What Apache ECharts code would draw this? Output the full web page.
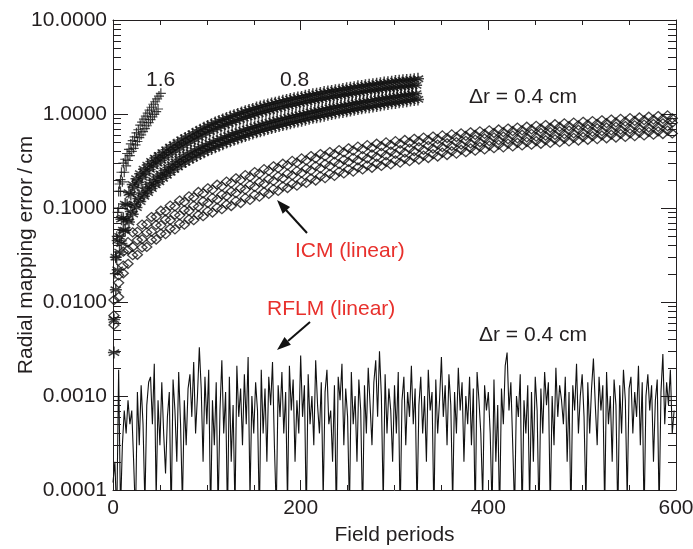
<!DOCTYPE html>
<html><head><meta charset="utf-8">
<script src="https://cdn.jsdelivr.net/npm/echarts@6/dist/echarts.min.js"></script>
<style>html,body{margin:0;padding:0;background:#fff}#c{width:693px;height:549px}</style>
</head><body><div id="c"></div>
<script>
// ---- data ----
const xTicks = [0, 200, 400, 600];
const yDecades = [0.0001, 0.001, 0.01, 0.1, 1, 10];
const yMinorTicks = [0.0002,0.0003,0.0004,0.0005,0.0006,0.0007,0.0008,0.0009,
  0.002,0.003,0.004,0.005,0.006,0.007,0.008,0.009,
  0.02,0.03,0.04,0.05,0.06,0.07,0.08,0.09,
  0.2,0.3,0.4,0.5,0.6,0.7,0.8,0.9,
  2,3,4,5,6,7,8,9];

// "1.6" series (plus markers)
const plusX1 = [2,3,4,5,6,7,8,9,11,13,15,17,19,21,23,25,27,29,31,33,35,37,39,41,43,45,47,49,51];
const plusY1 = [0.02,0.03,0.05,0.09,0.15,0.18,0.2,0.24,0.3,0.33,0.38,0.42,0.48,0.52,0.57,0.63,0.68,0.76,0.82,0.88,0.95,1.02,1.1,1.18,1.27,1.35,1.45,1.55,1.66];
const plusX2 = [4,6,8,10,12,14,16,18,20,22,24,26,28,30,32,34,36,38,40,42,44,46,48];
const plusY2 = [0.028,0.1,0.15,0.19,0.24,0.28,0.32,0.36,0.4,0.43,0.47,0.51,0.56,0.6,0.65,0.7,0.75,0.81,0.87,0.93,0.99,1.06,1.13];

// "0.8" series (asterisk markers), two sub-bands
const astX = [1,3,5,7,9,11,13,15,17,19,21,23,25,27,29,31,33,35,37,39,41,43,45,47,49,51,53,55,57,59,61,63,65,67,69,71,73,75,77,79,81,83,85,87,89,91,93,95,97,99,101,103,105,107,109,111,113,115,117,119,121,123,125,127,129,131,133,135,137,139,141,143,145,147,149,151,153,155,157,159,161,163,165,167,169,171,173,175,177,179,181,183,185,187,189,191,193,195,197,199,201,203,205,207,209,211,213,215,217,219,221,223,225,227,229,231,233,235,237,239,241,243,245,247,249,251,253,255,257,259,261,263,265,267,269,271,273,275,277,279,281,283,285,287,289,291,293,295,297,299,301,303,305,307,309,311,313,315,317,319,321,323,325];
const astUpper = [0.0065,0.03,0.045,0.05,0.076,0.078,0.11,0.108,0.146,0.139,
0.178,0.165,0.205,0.188,0.232,0.212,0.259,0.233,0.286,0.257,
0.313,0.28,0.34,0.301,0.362,0.322,0.389,0.345,0.416,0.368,
0.443,0.391,0.47,0.414,0.497,0.44,0.53,0.465,0.556,0.488,
0.583,0.514,0.616,0.542,0.648,0.569,0.68,0.597,0.713,0.625,
0.745,0.653,0.778,0.681,0.81,0.708,0.842,0.736,0.875,0.764,
0.907,0.792,0.94,0.819,0.972,0.847,1.0,0.875,1.04,0.903,
1.07,0.931,1.1,0.958,1.13,0.986,1.17,1.01,1.2,1.04,
1.23,1.07,1.26,1.09,1.29,1.12,1.32,1.14,1.35,1.17,
1.38,1.2,1.41,1.22,1.44,1.25,1.47,1.27,1.5,1.3,
1.52,1.32,1.56,1.35,1.59,1.38,1.62,1.4,1.64,1.42,
1.67,1.45,1.71,1.47,1.73,1.5,1.76,1.52,1.79,1.55,
1.81,1.57,1.85,1.6,1.88,1.62,1.9,1.65,1.93,1.67,
1.97,1.69,1.99,1.72,2.02,1.75,2.05,1.77,2.07,1.79,
2.1,1.81,2.13,1.84,2.16,1.86,2.18,1.88,2.21,1.9,
2.24,1.92,2.26,1.94,2.28,1.96,2.3,1.98,2.32,2.0,
2.34,2.02,2.37];
const astLower = [0.0029,0.0135,0.022,0.034,0.042,0.058,0.058,0.076,0.071,0.092,
0.086,0.109,0.101,0.126,0.117,0.144,0.133,0.162,0.146,0.179,
0.161,0.197,0.176,0.214,0.19,0.23,0.207,0.25,0.223,0.27,
0.24,0.29,0.257,0.31,0.274,0.33,0.292,0.35,0.308,0.37,
0.325,0.389,0.342,0.408,0.358,0.428,0.375,0.447,0.392,0.467,
0.412,0.486,0.425,0.506,0.443,0.527,0.46,0.547,0.478,0.568,
0.496,0.588,0.513,0.609,0.531,0.63,0.549,0.65,0.566,0.671,
0.584,0.691,0.602,0.712,0.62,0.733,0.638,0.754,0.655,0.775,
0.673,0.796,0.691,0.816,0.708,0.837,0.726,0.858,0.744,0.878,
0.762,0.899,0.78,0.92,0.797,0.941,0.815,0.961,0.833,0.982,
0.85,1.0,0.87,1.02,0.89,1.05,0.91,1.07,0.925,1.09,
0.943,1.11,0.96,1.13,0.98,1.16,0.999,1.18,1.02,1.2,
1.035,1.22,1.05,1.24,1.07,1.26,1.09,1.29,1.11,1.31,
1.13,1.33,1.15,1.35,1.17,1.37,1.18,1.39,1.2,1.42,
1.22,1.44,1.24,1.46,1.26,1.48,1.28,1.5,1.3,1.52,
1.31,1.54,1.33,1.57,1.35,1.59,1.37,1.61,1.39,1.63,
1.41,1.65,1.43];

// "Δr = 0.4 cm" series (diamond markers), three strands across the band
const diaX = [1,6,11,16,21,26,31,36,41,46,51,56,61,66,71,76,81,86,91,96,101,106,111,116,121,126,131,136,141,146,151,156,161,166,171,176,181,186,191,196,201,206,211,216,221,226,231,236,241,246,251,256,261,266,271,276,281,286,291,296,301,306,311,316,321,326,331,336,341,346,351,356,361,366,371,376,381,386,391,396,401,406,411,416,421,426,431,436,441,446,451,456,461,466,471,476,481,486,491,496,501,506,511,516,521,526,531,536,541,546,551,556,561,566,571,576,581,586,591,596];
const diaTop = [0.0105,0.0192,0.0343,0.0433,0.0551,0.0558,0.0666,0.0673,0.0801,0.0808,
0.0936,0.0923,0.106,0.104,0.12,0.116,0.133,0.13,0.148,0.143,
0.162,0.157,0.177,0.17,0.191,0.184,0.207,0.199,0.224,0.214,
0.241,0.231,0.259,0.248,0.278,0.265,0.296,0.284,0.317,0.303,
0.337,0.321,0.357,0.338,0.375,0.356,0.394,0.373,0.413,0.39,
0.432,0.408,0.449,0.423,0.466,0.438,0.483,0.454,0.499,0.468,
0.514,0.483,0.529,0.497,0.545,0.512,0.561,0.526,0.576,0.54,
0.592,0.555,0.607,0.569,0.623,0.584,0.639,0.598,0.654,0.613,
0.67,0.627,0.685,0.641,0.701,0.656,0.717,0.67,0.732,0.685,
0.748,0.699,0.763,0.713,0.779,0.728,0.795,0.742,0.81,0.757,
0.826,0.771,0.841,0.786,0.857,0.8,0.873,0.814,0.888,0.829,
0.904,0.843,0.919,0.858,0.935,0.872,0.951,0.887,0.966,0.901];
const diaMid = [0.0072,0.016,0.0244,0.036,0.0385,0.0456,0.0465,0.055,0.056,0.066,
0.0654,0.0755,0.0741,0.0849,0.0836,0.0952,0.093,0.106,0.103,0.118,
0.113,0.128,0.123,0.139,0.134,0.15,0.144,0.162,0.157,0.176,
0.168,0.188,0.181,0.203,0.194,0.217,0.207,0.232,0.222,0.248,
0.236,0.263,0.25,0.279,0.264,0.294,0.279,0.31,0.293,0.326,
0.309,0.341,0.322,0.356,0.336,0.371,0.35,0.386,0.363,0.399,
0.376,0.414,0.388,0.428,0.402,0.443,0.415,0.458,0.429,0.472,
0.443,0.488,0.458,0.502,0.471,0.518,0.486,0.534,0.5,0.549,
0.514,0.564,0.526,0.576,0.538,0.589,0.55,0.602,0.563,0.615,
0.574,0.628,0.587,0.641,0.598,0.654,0.611,0.667,0.622,0.68,
0.634,0.693,0.646,0.706,0.658,0.719,0.67,0.731,0.682,0.745,
0.694,0.757,0.706,0.771,0.718,0.783,0.73,0.797,0.742,0.809];
const diaBot = [0.0057,0.0113,0.0202,0.0255,0.0315,0.0318,0.0381,0.0385,0.0458,0.0462,
0.0535,0.0528,0.0606,0.0593,0.0683,0.0664,0.076,0.0741,0.0843,0.0818,
0.0927,0.0895,0.101,0.0971,0.109,0.105,0.119,0.113,0.128,0.122,
0.138,0.132,0.148,0.141,0.159,0.152,0.17,0.163,0.181,0.173,
0.192,0.185,0.206,0.196,0.218,0.208,0.231,0.22,0.244,0.233,
0.258,0.244,0.27,0.257,0.284,0.268,0.296,0.28,0.309,0.291,
0.321,0.304,0.334,0.315,0.347,0.328,0.361,0.34,0.374,0.353,
0.388,0.366,0.402,0.379,0.417,0.392,0.432,0.407,0.447,0.42,
0.462,0.433,0.472,0.442,0.484,0.452,0.494,0.463,0.505,0.472,
0.516,0.482,0.526,0.492,0.538,0.502,0.548,0.512,0.558,0.522,
0.57,0.532,0.58,0.541,0.591,0.552,0.602,0.562,0.613,0.571,
0.623,0.582,0.634,0.591,0.645,0.602,0.655,0.612,0.667,0.621];

// "RFLM (linear)" noisy line
const noiseX = [0,2,4,6,8,10,12,14,16,18,20,22,24,26,28,30,32,34,36,38,40,42,44,46,48,50,52,54,56,58,60,62,64,66,68,70,72,74,76,78,80,82,84,86,88,90,92,94,96,98,100,102,104,106,108,110,112,114,116,118,120,122,124,126,128,130,132,134,136,138,140,142,144,146,148,150,152,154,156,158,160,162,164,166,168,170,172,174,176,178,180,182,184,186,188,190,192,194,196,198,200,202,204,206,208,210,212,214,216,218,220,222,224,226,228,230,232,234,236,238,240,242,244,246,248,250,252,254,256,258,260,262,264,266,268,270,272,274,276,278,280,282,284,286,288,290,292,294,296,298,300,302,304,306,308,310,312,314,316,318,320,322,324,326,328,330,332,334,336,338,340,342,344,346,348,350,352,354,356,358,360,362,364,366,368,370,372,374,376,378,380,382,384,386,388,390,392,394,396,398,400,402,404,406,408,410,412,414,416,418,420,422,424,426,428,430,432,434,436,438,440,442,444,446,448,450,452,454,456,458,460,462,464,466,468,470,472,474,476,478,480,482,484,486,488,490,492,494,496,498,500,502,504,506,508,510,512,514,516,518,520,522,524,526,528,530,532,534,536,538,540,542,544,546,548,550,552,554,556,558,560,562,564,566,568,570,572,574,576,578,580,582,584,586,588,590,592,594,596,598];
const noiseY = [0.00012,0.0002,0.00005,0.0019,0.00006,0.0003,0.0007,0.0004,0.0009,0.0005,
0.0007,0.0002,0.00005,0.0011,0.0003,0.0013,0.0005,0.00007,0.0008,0.0014,
0.0016,0.0005,0.0022,0.00008,0.0009,0.0003,0.0014,0.0004,0.00015,0.0006,
0.0011,0.00005,0.0015,0.0007,0.0002,0.0018,0.0005,0.00007,0.0009,0.0003,
0.0012,0.0017,0.0006,0.0023,0.0004,0.001,0.0033,0.0012,0.0002,0.0016,
0.0005,0.0019,0.00005,0.0009,0.0003,0.0014,0.00006,0.0007,0.0024,0.0004,
0.0011,0.00005,0.0016,0.0002,0.0008,0.00006,0.0021,0.0006,0.0012,0.0003,
0.0017,0.0005,0.0026,0.00008,0.001,0.0004,0.0014,0.0007,0.00005,0.0019,
0.0004,0.0012,0.0002,0.0016,0.0008,0.0023,0.0003,0.00006,0.0013,0.0006,
0.0018,0.0004,0.0011,0.00007,0.0021,0.0007,0.0015,0.0002,0.0009,0.0004,
0.0027,0.0006,0.0013,0.00005,0.0017,0.0005,0.001,0.0003,0.0024,0.0008,
0.0004,0.0014,0.00008,0.0011,0.0019,0.0005,0.0007,0.0002,0.0013,0.00005,
0.0016,0.0009,0.0022,0.0003,0.0012,0.0006,0.00006,0.0018,0.0005,0.001,
0.0002,0.0015,0.0007,0.00005,0.0013,0.0004,0.002,0.0008,0.0003,0.0014,
0.0024,0.0006,0.003,0.001,0.00007,0.0017,0.0004,0.0012,0.0007,0.0002,
0.0013,0.0004,0.0018,0.00005,0.0009,0.0016,0.0003,0.0011,0.0006,0.0021,
0.0005,0.0012,0.00006,0.0008,0.0016,0.0004,0.001,0.0002,0.0019,0.0007,
0.0011,0.00005,0.0015,0.0004,0.0009,0.0026,0.0006,0.0013,0.0003,0.0017,
0.0008,0.00007,0.0011,0.0004,0.002,0.0007,0.0014,0.0002,0.001,0.0005,
0.0016,0.0003,0.0012,0.00005,0.0018,0.0009,0.0004,0.00008,0.0013,0.0007,
0.0011,0.0004,0.00006,0.0015,0.0002,0.0008,0.00005,0.0012,0.0005,0.0021,
0.0029,0.0007,0.0014,0.0003,0.00006,0.001,0.0006,0.0017,0.00005,0.0009,
0.0004,0.0013,0.00007,0.0011,0.0002,0.0016,0.0007,0.00005,0.0012,0.0004,
0.0018,0.0008,0.0014,0.00006,0.001,0.0003,0.002,0.0006,0.0013,0.0009,
0.0005,0.0016,0.0002,0.0011,0.00005,0.0013,0.0007,0.0022,0.0004,0.001,
0.0017,0.0006,0.00007,0.0014,0.0004,0.0012,0.0025,0.0008,0.0003,0.0016,
0.0007,0.0013,0.00006,0.0018,0.0005,0.001,0.0002,0.0015,0.0008,0.00005,
0.0013,0.0004,0.0019,0.0009,0.00008,0.0012,0.0016,0.0004,0.0011,0.0006,
0.0021,0.0003,0.0014,0.00005,0.001,0.0017,0.0007,0.0013,0.0002,0.0009,
0.0015,0.00006,0.0011,0.0028,0.0005,0.0014,0.0008,0.0019,0.0004,0.0007];

// ---- chart ----
const FONT = '"Liberation Sans", Arial, Helvetica, sans-serif';
const INK = '#231f20';
const RED = '#e8302c';
const zip = (xs, ys) => xs.map((x, i) => [x, ys[i]]).filter(p => p[1] !== undefined);

const SYM_PLUS = 'path://M0 5 L10 5 M5 0 L5 10';
const SYM_AST = 'path://M5 0 L5 10 M0.67 2.5 L9.33 7.5 M0.67 7.5 L9.33 2.5 M0 5 L10 5';
const astStyle = { color: 'rgba(0,0,0,0)', borderColor: '#111', borderWidth: 1.5 };
const diaStyle = { color: 'rgba(0,0,0,0)', borderColor: '#111', borderWidth: 1.3 };
const plusStyle = { color: 'rgba(0,0,0,0)', borderColor: '#111', borderWidth: 1.2 };

function minorTickItem(params, api) {
  const v = api.value(1);
  const a = api.coord([xTicks[0], v]);
  const b = api.coord([xTicks[xTicks.length - 1], v]);
  const y = Math.round(a[1]) + 0.5;
  return { type: 'group', children: [
    { type: 'line', shape: { x1: a[0], y1: y, x2: a[0] + 8, y2: y }, style: { stroke: INK, lineWidth: 1 } },
    { type: 'line', shape: { x1: b[0] - 8, y1: y, x2: b[0], y2: y }, style: { stroke: INK, lineWidth: 1 } }
  ] };
}

const axisCommonX = {
  type: 'value', min: xTicks[0], max: xTicks[xTicks.length - 1], interval: 200,
  axisLine: { show: true, onZero: false, lineStyle: { color: INK, width: 1 } },
  axisTick: { show: true, inside: true, length: 10, lineStyle: { color: INK } },
  minorTick: { show: true, splitNumber: 4, length: 5, lineStyle: { color: INK } },
  splitLine: { show: false }
};
const axisCommonY = {
  type: 'log', logBase: 10, min: yDecades[0], max: yDecades[yDecades.length - 1],
  axisLine: { show: true, onZero: false, lineStyle: { color: INK, width: 1 } },
  axisTick: { show: true, inside: true, length: 15, lineStyle: { color: INK } },
  splitLine: { show: false }
};

const chart = echarts.init(document.getElementById('c'), null, { renderer: 'canvas' });
chart.setOption({
  animation: false,
  backgroundColor: '#fff',
  textStyle: { fontFamily: FONT },
  grid: { left: 113, top: 20, right: 17, bottom: 59, containLabel: false, outerBoundsMode: 'none' },
  xAxis: [
    Object.assign({}, axisCommonX, {
      position: 'bottom',
      axisLabel: { show: true, fontSize: 21, color: INK, fontFamily: FONT, margin: 8 },
      name: 'Field periods', nameLocation: 'middle', nameGap: 35, nameMoveOverlap: false,
      nameTextStyle: { fontSize: 21, color: INK, fontFamily: FONT }
    }),
    Object.assign({}, axisCommonX, { position: 'top', axisLabel: { show: false } })
  ],
  yAxis: [
    Object.assign({}, axisCommonY, {
      position: 'left',
      axisLabel: { show: true, fontSize: 21, color: INK, fontFamily: FONT, margin: 6,
        formatter: v => Number(v).toFixed(4) },
      name: 'Radial mapping error\u2009/\u2009cm', nameLocation: 'middle', nameGap: 76, nameMoveOverlap: false,
      nameTextStyle: { fontSize: 21, color: INK, fontFamily: FONT }
    }),
    Object.assign({}, axisCommonY, { position: 'right', axisLabel: { show: false } })
  ],
  series: [
    { type: 'custom', name: 'minorTicks', xAxisIndex: 0, yAxisIndex: 0, silent: true, clip: false,
      data: yMinorTicks.map(v => [xTicks[0], v]), renderItem: minorTickItem, z: 5 },
    { type: 'line', name: 'RFLM', data: zip(noiseX, noiseY), showSymbol: false, symbol: 'none',
      clip: true, lineStyle: { color: '#111', width: 1.1 }, silent: true, z: 2 },
    { type: 'scatter', name: 'dr04a', data: zip(diaX, diaTop), symbol: 'diamond', symbolSize: [10, 9],
      itemStyle: diaStyle, silent: true, z: 3 },
    { type: 'scatter', name: 'dr04b', data: zip(diaX, diaMid), symbol: 'diamond', symbolSize: [10, 9],
      itemStyle: diaStyle, silent: true, z: 3 },
    { type: 'scatter', name: 'dr04c', data: zip(diaX, diaBot), symbol: 'diamond', symbolSize: [10, 9],
      itemStyle: diaStyle, silent: true, z: 3 },
    { type: 'scatter', name: 'dr08u', data: zip(astX, astUpper), symbol: SYM_AST, symbolSize: 12,
      itemStyle: astStyle, silent: true, z: 3 },
    { type: 'scatter', name: 'dr08l', data: zip(astX, astLower), symbol: SYM_AST, symbolSize: 12,
      itemStyle: astStyle, silent: true, z: 3 },
    { type: 'scatter', name: 'dr16a', data: zip(plusX1, plusY1), symbol: SYM_PLUS, symbolSize: 10,
      itemStyle: plusStyle, silent: true, z: 3 },
    { type: 'scatter', name: 'dr16b', data: zip(plusX2, plusY2), symbol: SYM_PLUS, symbolSize: 10,
      itemStyle: plusStyle, silent: true, z: 3 }
  ],
  graphic: [
    { type: 'text', x: 146, y: 80, style: { text: '1.6', font: '21px ' + FONT, fill: INK, verticalAlign: 'middle' } },
    { type: 'text', x: 280, y: 80, style: { text: '0.8', font: '21px ' + FONT, fill: INK, verticalAlign: 'middle' } },
    { type: 'text', x: 469, y: 97, style: { text: '\u0394r = 0.4 cm', font: '21px ' + FONT, fill: INK, verticalAlign: 'middle' } },
    { type: 'text', x: 479, y: 335, style: { text: '\u0394r = 0.4 cm', font: '21px ' + FONT, fill: INK, verticalAlign: 'middle' } },
    { type: 'text', x: 295, y: 251, style: { text: 'ICM (linear)', font: '21px ' + FONT, fill: RED, verticalAlign: 'middle' } },
    { type: 'text', x: 267, y: 309, style: { text: 'RFLM (linear)', font: '21px ' + FONT, fill: RED, verticalAlign: 'middle' } },
    { type: 'line', shape: { x1: 307, y1: 233, x2: 286, y2: 210 }, style: { stroke: '#111', lineWidth: 2 } },
    { type: 'polygon', shape: { points: [[277, 200], [290.1, 207.0], [282.7, 213.8]] }, style: { fill: '#111' } },
    { type: 'line', shape: { x1: 310, y1: 322, x2: 288, y2: 341 }, style: { stroke: '#111', lineWidth: 2 } },
    { type: 'polygon', shape: { points: [[277, 350], [290.9, 344.7], [284.5, 337.1]] }, style: { fill: '#111' } }
  ]
});
</script></body></html>
